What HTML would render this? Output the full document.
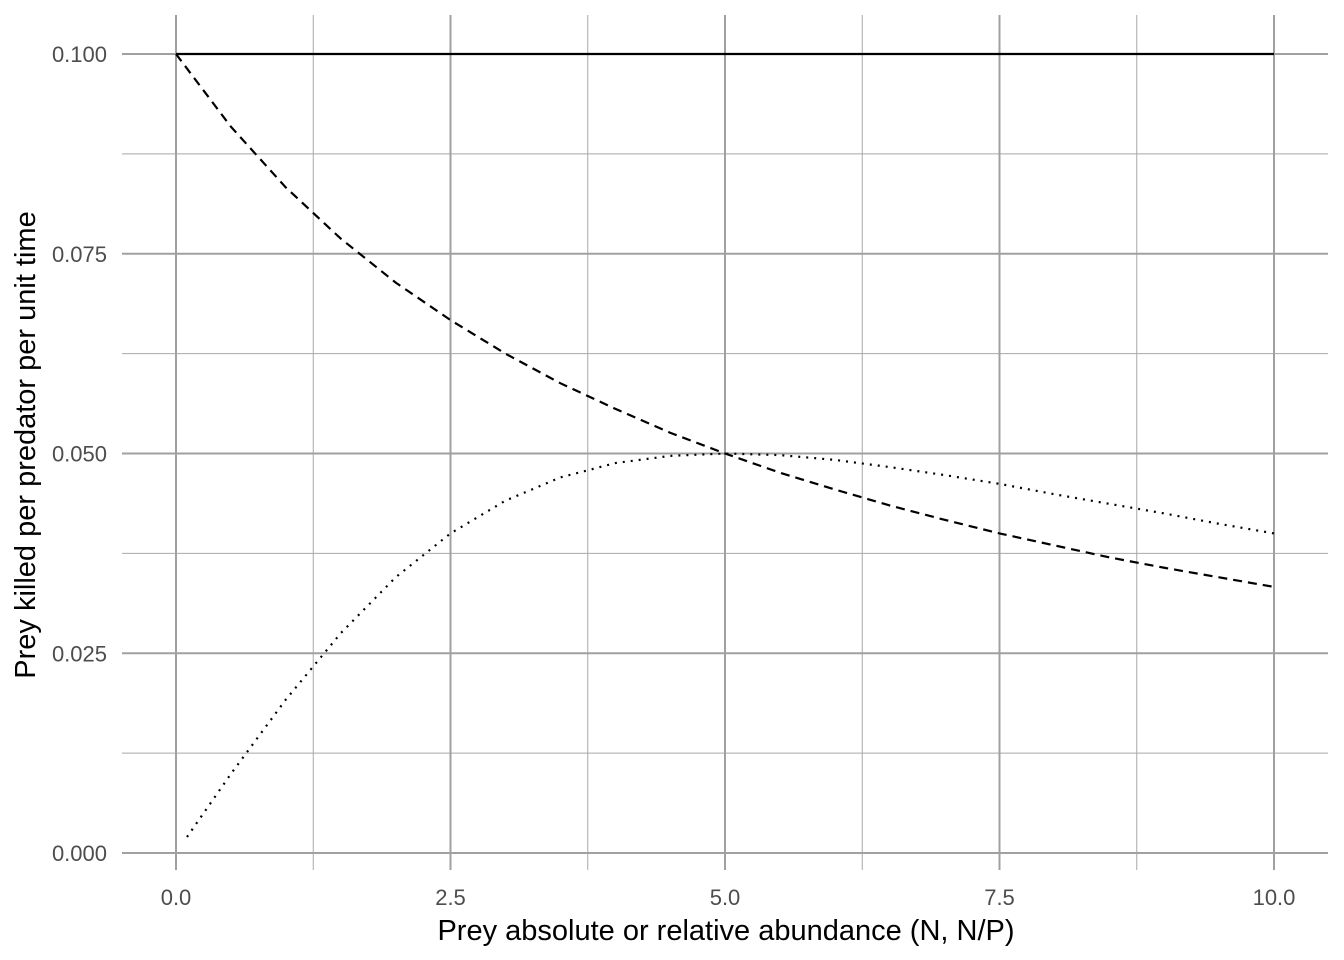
<!DOCTYPE html>
<html><head><meta charset="utf-8"><style>
html,body{margin:0;padding:0;background:#fff;}
svg{display:block;font-family:"Liberation Sans",Arial,sans-serif;}
</style></head><body>
<svg id="chart" width="1344" height="960" viewBox="0 0 1344 960">
<g id="grid"></g>
<g id="series"></g>
<g id="axes"></g>
<text x="726" y="940" text-anchor="middle" font-size="29" fill="#000">Prey absolute or relative abundance (N, N/P)</text>
<text transform="translate(35,445) rotate(-90)" text-anchor="middle" font-size="29" fill="#000">Prey killed per predator per unit time</text>
</svg>
<script>
const xTicks=[0,2.5,5,7.5,10];
const xTickLabels=["0.0","2.5","5.0","7.5","10.0"];
const yTicks=[0,0.025,0.05,0.075,0.1];
const yTickLabels=["0.000","0.025","0.050","0.075","0.100"];
const xMinor=[1.25,3.75,6.25,8.75];
const yMinor=[0.0125,0.0375,0.0625,0.0875];
const constX=[0,10];
const constY=[0.1,0.1];
const dashX=[0,0.5,1,1.5,2,2.5,3,3.5,4,4.5,5,5.5,6,6.5,7,7.5,8,8.5,9,9.5,10];
const dashY=[0.1,0.0909,0.0833,0.0769,0.0714,0.0667,0.0625,0.0588,0.0556,0.0526,0.05,0.0476,0.0455,0.0435,0.0417,0.04,0.0385,0.0370,0.0357,0.0345,0.0333];
const dotX=[0.1,0.5,1,1.5,2,2.5,3,3.5,4,4.5,5,5.5,6,6.5,7,7.5,8,8.5,9,9.5,10];
const dotY=[0.002,0.0099,0.0192,0.0275,0.0345,0.04,0.0441,0.0470,0.0488,0.0497,0.05,0.0498,0.0492,0.0483,0.0473,0.0462,0.0449,0.0437,0.0425,0.0412,0.04];
const X0=176,X1=1274,Y0=853,Y1=54,PL=122,PR=1328,PT=15,PB=870;
const sx=v=>X0+(X1-X0)*v/10;
const sy=v=>Y0+(Y1-Y0)*v/0.1;
const NS="http://www.w3.org/2000/svg";
function mk(tag,attrs,parent){const e=document.createElementNS(NS,tag);for(const k in attrs)e.setAttribute(k,attrs[k]);parent.appendChild(e);return e;}
const grid=document.getElementById('grid'),axes=document.getElementById('axes'),ser=document.getElementById('series');
xMinor.forEach(v=>{const l=mk('line',{x1:sx(v),x2:sx(v),y1:PT,y2:PB,stroke:'#a8a8a8','stroke-width':1},grid);

});
yMinor.forEach(v=>{const l=mk('line',{x1:PL,x2:PR,y1:sy(v),y2:sy(v),stroke:'#a8a8a8','stroke-width':1},grid);

});
xTicks.forEach((v,i)=>{const l=mk('line',{x1:sx(v),x2:sx(v),y1:PT,y2:PB,stroke:'#a0a0a0','stroke-width':2},grid);


const t=mk('text',{x:sx(v),y:905,'text-anchor':'middle','font-size':22,fill:'#4d4d4d'},axes);t.textContent=xTickLabels[i];

});
yTicks.forEach((v,i)=>{const l=mk('line',{x1:PL,x2:PR,y1:sy(v),y2:sy(v),stroke:'#a0a0a0','stroke-width':2},grid);


const t=mk('text',{x:107,y:sy(v)+8,'text-anchor':'end','font-size':22,fill:'#4d4d4d'},axes);t.textContent=yTickLabels[i];

});
function line(xs,ys,dash,name){const pts=xs.map((x,i)=>sx(x)+','+sy(ys[i])).join(' ');
const p=mk('polyline',{points:pts,fill:'none',stroke:'#000','stroke-width':2.2,'stroke-dasharray':dash},ser);

}
line(constX,constY,'none','constant-series-line');
line(dashX,dashY,'9,6','dashed-series-line');
line(dotX,dotY,'2,6','dotted-series-line');
</script>
</body></html>
